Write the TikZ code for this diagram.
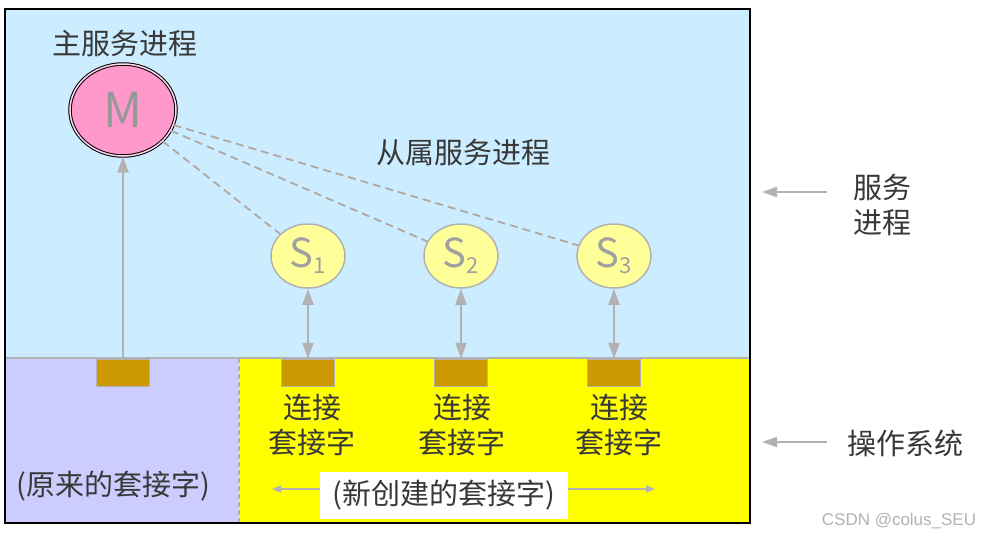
\documentclass[tikz,border=0pt]{standalone}
\usepackage{fontspec}
\setmainfont{Noto Sans CJK SC}
\newfontfamily\wmfont{Liberation Sans}
\usetikzlibrary{shapes.geometric,arrows.meta}
\definecolor{topblue}{HTML}{CCECFF}
\definecolor{lav}{HTML}{CCCCFF}
\definecolor{yel}{HTML}{FFFF00}
\definecolor{pinkm}{HTML}{FF99CC}
\definecolor{lightyel}{HTML}{FFFF99}
\definecolor{brown}{HTML}{CC9900}
\definecolor{lgray}{HTML}{B2B2B2}
\definecolor{dgray}{HTML}{B0A8A0}
\definecolor{txt}{HTML}{383838}
\tikzset{
  lbl/.style={text=txt,font=\fontsize{29}{35}\selectfont,inner sep=0pt,align=center},
  snode/.style={ellipse,draw=lgray,line width=1.5pt,fill=lightyel,minimum width=74pt,minimum height=64pt,inner sep=0pt,text=lgray!90!black,font=\fontsize{40}{40}\selectfont},
  sock/.style={rectangle,draw=lgray,line width=1.5pt,fill=brown,minimum width=53pt,minimum height=27pt,inner sep=0pt},
  garrow/.style={draw=lgray,line width=2pt,-{Triangle[length=16pt,width=11pt]}},
  gdarrow/.style={draw=lgray,line width=2pt,{Triangle[length=16pt,width=11pt]}-{Triangle[length=16pt,width=11pt]}},
  sarrow/.style={draw=lgray,line width=1.5pt,-{Triangle[length=9pt,width=7pt]}},
  bigsarrow/.style={draw=lgray,line width=2pt,-{Triangle[length=15pt,width=10pt]}},
  dline/.style={draw=dgray,line width=1.8pt,dash pattern=on 8pt off 5pt}
}
\begin{document}
\begin{tikzpicture}[x=1pt,y=-1pt]
\useasboundingbox (0,0) rectangle (982,538);
\fill[white] (0,0) rectangle (982,538);
% regions
\fill[topblue] (5,9) rectangle (750,358);
\fill[lav] (5,358) rectangle (239,523);
\fill[yel] (239,358) rectangle (750,523);
\draw[lgray,line width=1.5pt,dash pattern=on 5pt off 3pt] (239,358) -- (239,523);
\draw[lgray,line width=2pt] (5,358) -- (750,358);
\draw[black,line width=2pt] (5,9) rectangle (750,523);
% main process
\node[lbl] (mt) at (125,43) {主服务进程};
\node[ellipse,draw=black,line width=1pt,double=pinkm!40!white,double distance=1.5pt,fill=pinkm,minimum width=106pt,minimum height=92pt,inner sep=0pt,text=lgray!85!black,font=\fontsize{48}{48}\selectfont] (M) at (123,110) {M};
% slave processes
\node[snode] (S1) at (308,256) {S\raisebox{-6pt}{\fontsize{22}{22}\selectfont 1}};
\node[snode] (S2) at (461,256) {S\raisebox{-6pt}{\fontsize{22}{22}\selectfont 2}};
\node[snode] (S3) at (614,256) {S\raisebox{-6pt}{\fontsize{22}{22}\selectfont 3}};
\node[lbl] (st) at (463,152) {从属服务进程};
\draw[dline] (M) -- (S1);
\draw[dline] (M) -- (S2);
\draw[dline] (M) -- (S3);
% sockets
\node[sock] (b0) at (123,373) {};
\node[sock] (b1) at (308,373) {};
\node[sock] (b2) at (461,373) {};
\node[sock] (b3) at (614,373) {};
\draw[garrow] (b0.north) -- (M.south);
\draw[gdarrow] (S1.south) -- (b1.north);
\draw[gdarrow] (S2.south) -- (b2.north);
\draw[gdarrow] (S3.south) -- (b3.north);
% labels
\node[lbl] (c1) at (312,425) {连接\\套接字};
\node[lbl] (c2) at (462,425) {连接\\套接字};
\node[lbl] (c3) at (619,425) {连接\\套接字};
\node[lbl] (orig) at (113,486) {(原来的套接字)};
\node[lbl,fill=white,minimum width=248pt,minimum height=47pt] (newsock) at (444,495) {(新创建的套接字)};
\coordinate (la) at (320,489);
\coordinate (lae) at (272,489);
\coordinate (ra) at (568,489);
\coordinate (rae) at (655,489);
\draw[sarrow] (la) -- (lae);
\draw[sarrow] (ra) -- (rae);
% right side
\node[lbl] (svc) at (882,205) {服务\\进程};
\node[lbl] (os) at (905,443) {操作系统};
\coordinate (a1s) at (827,192);
\coordinate (a1e) at (762,192);
\coordinate (a2s) at (827,442);
\coordinate (a2e) at (762,442);
\draw[bigsarrow] (a1s) -- (a1e);
\draw[bigsarrow] (a2s) -- (a2e);
\node[text=lgray,font=\wmfont\fontsize{17}{17}\selectfont,inner sep=0pt] (wm) at (899,521) {CSDN @colus\_SEU};
\end{tikzpicture}
\end{document}
